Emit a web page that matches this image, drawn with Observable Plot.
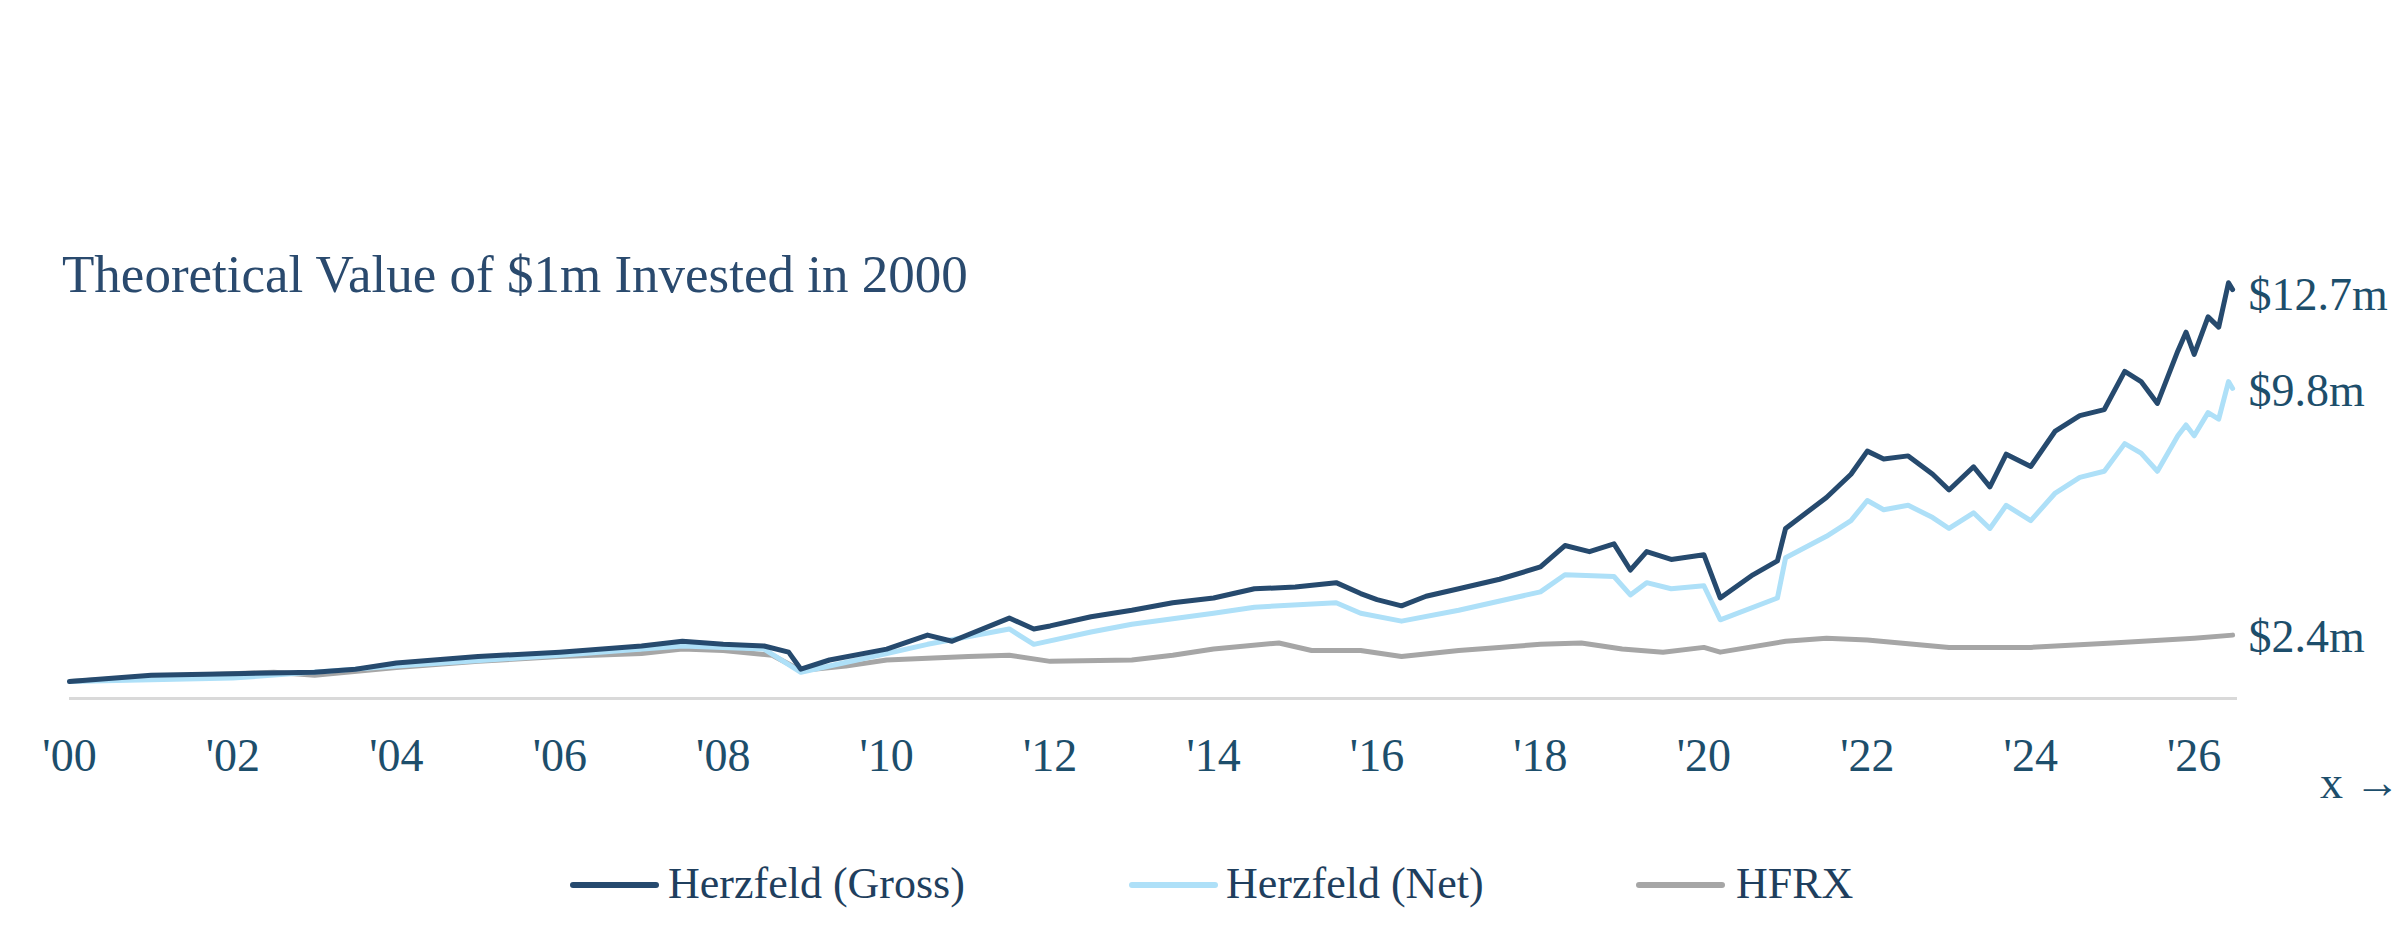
<!DOCTYPE html>
<html><head><meta charset="utf-8">
<script src="https://cdn.jsdelivr.net/npm/d3@7"></script>
<script src="https://cdn.jsdelivr.net/npm/@observablehq/plot@0.6"></script>
<style>
body{margin:0;background:#fff;width:2403px;height:932px;position:relative;overflow:hidden;font-family:"Liberation Serif",serif}
#title{position:absolute;left:62px;top:244px;font-size:53px;color:#2a4a6e;white-space:nowrap}
#chart{position:absolute;left:0;top:0}
.lg{position:absolute;top:858px;font-size:44px;color:#1f3f5e;white-space:nowrap}
.sw{position:absolute;top:882px;width:89px;height:6px;border-radius:3px}
</style></head><body>
<div id="chart"></div>
<div id="title">Theoretical Value of $1m Invested in 2000</div>
<div class="sw" style="left:570px;background:#264a6e"></div><div class="lg" style="left:668px">Herzfeld (Gross)</div>
<div class="sw" style="left:1129px;background:#aee0f8"></div><div class="lg" style="left:1226px">Herzfeld (Net)</div>
<div class="sw" style="left:1636px;background:#a6a6a6"></div><div class="lg" style="left:1736px">HFRX</div>
<script>
const grossYears=[2000,2001,2002,2003,2003.5,2004,2005,2006,2007,2007.5,2008,2008.5,2008.8,2008.95,2009.3,2010,2010.5,2010.8,2011.5,2011.8,2012,2012.5,2013,2013.5,2014,2014.5,2015,2015.5,2015.8,2016,2016.3,2016.6,2017,2017.5,2018,2018.3,2018.6,2018.9,2019.1,2019.3,2019.6,2020,2020.2,2020.6,2020.9,2021,2021.5,2021.8,2022,2022.2,2022.5,2022.8,2023,2023.3,2023.5,2023.7,2024,2024.3,2024.6,2024.9,2025.15,2025.35,2025.55,2025.8,2025.9,2026.0,2026.17,2026.3,2026.42,2026.47];
const grossValues=[1.0,1.18,1.23,1.27,1.36,1.54,1.73,1.86,2.04,2.18,2.09,2.04,1.86,1.36,1.63,1.95,2.36,2.18,2.86,2.54,2.63,2.9,3.09,3.31,3.45,3.72,3.77,3.9,3.58,3.4,3.22,3.5,3.72,4.0,4.36,4.99,4.81,5.04,4.27,4.81,4.58,4.72,3.45,4.13,4.54,5.49,6.40,7.08,7.76,7.53,7.62,7.08,6.62,7.3,6.71,7.67,7.31,8.35,8.8,8.98,10.1,9.8,9.16,10.7,11.25,10.6,11.7,11.4,12.7,12.5];
const netYears=[2000,2002,2004,2006,2007.5,2008.5,2008.95,2010,2010.5,2011.5,2011.8,2012.5,2013,2014,2014.5,2015.5,2015.8,2016.3,2017,2018,2018.3,2018.9,2019.1,2019.3,2019.6,2020,2020.2,2020.9,2021,2021.5,2021.8,2022,2022.2,2022.5,2022.8,2023,2023.3,2023.5,2023.7,2024,2024.3,2024.6,2024.9,2025.15,2025.35,2025.55,2025.8,2025.9,2026.0,2026.17,2026.3,2026.42,2026.47];
const netValues=[1.0,1.1,1.45,1.77,2.04,1.95,1.27,1.82,2.09,2.54,2.09,2.45,2.68,3.0,3.18,3.31,3.0,2.77,3.09,3.63,4.13,4.08,3.54,3.9,3.72,3.81,2.81,3.45,4.63,5.26,5.72,6.31,6.04,6.17,5.81,5.49,5.95,5.49,6.17,5.72,6.53,6.99,7.17,7.98,7.7,7.17,8.21,8.53,8.21,8.89,8.7,9.8,9.6];
const hfrxYears=[2000,2001,2002,2002.5,2003,2004,2005,2006,2007,2007.5,2008,2008.6,2008.95,2009.5,2010,2011,2011.5,2012,2013,2013.5,2014,2014.8,2015.2,2015.8,2016.3,2017,2018,2018.5,2019,2019.5,2020,2020.2,2021,2021.5,2022,2023,2024,2025,2026,2026.47];
const hfrxValues=[1.0,1.14,1.23,1.27,1.18,1.41,1.59,1.73,1.82,1.95,1.91,1.77,1.32,1.45,1.63,1.73,1.77,1.59,1.63,1.77,1.95,2.13,1.91,1.91,1.73,1.91,2.09,2.13,1.95,1.86,2.0,1.86,2.18,2.27,2.22,2.0,2.0,2.13,2.27,2.36];
const endLabels=["$12.7m","$9.8m","$2.4m"];
const tickYears=d3.range(2000,2027,2);
const tickLabels=tickYears.map(y=>"'"+String(y).slice(2));

const series=[
 {name:"Herzfeld (Gross)",years:grossYears,values:grossValues,color:"#264a6e",label:endLabels[0],dy:6},
 {name:"Herzfeld (Net)",years:netYears,values:netValues,color:"#aee0f8",label:endLabels[1],dy:3},
 {name:"HFRX",years:hfrxYears,values:hfrxValues,color:"#a6a6a6",label:endLabels[2],dy:2}
];
const order=[series[2],series[1],series[0]];
const marks=[Plot.ruleY([0.5],{stroke:"#d9d9d9",strokeWidth:3})];
for(const s of order){
  const rows=s.years.map((y,i)=>({x:y,v:s.values[i]}));
  marks.push(Plot.line(rows,{x:"x",y:"v",stroke:s.color,strokeWidth:5,strokeLinejoin:"round",strokeLinecap:"round"}));
}
for(const s of series){
  const n=s.years.length-1;
  marks.push(Plot.text([{x:s.years[n],v:s.values[n]}],{x:"x",y:"v",text:()=>s.label,textAnchor:"start",dx:16,dy:s.dy,fill:"#1d4e6b",fontSize:46,fontFamily:"Liberation Serif"}));
}
marks.push(Plot.axisX(tickYears,{tickFormat:(d,i)=>tickLabels[i],tickSize:0,tickPadding:40,fontSize:46,fontFamily:"Liberation Serif",fill:"#1d4e6b"}));
const p=Plot.plot({width:2403,height:800,marginLeft:69,marginRight:166,marginTop:238,marginBottom:102,
  x:{domain:[2000,2026.53]},y:{domain:[0.5,14],axis:null},
  style:{background:"transparent",overflow:"visible"},marks});
document.getElementById("chart").appendChild(p);
</script></body></html>
